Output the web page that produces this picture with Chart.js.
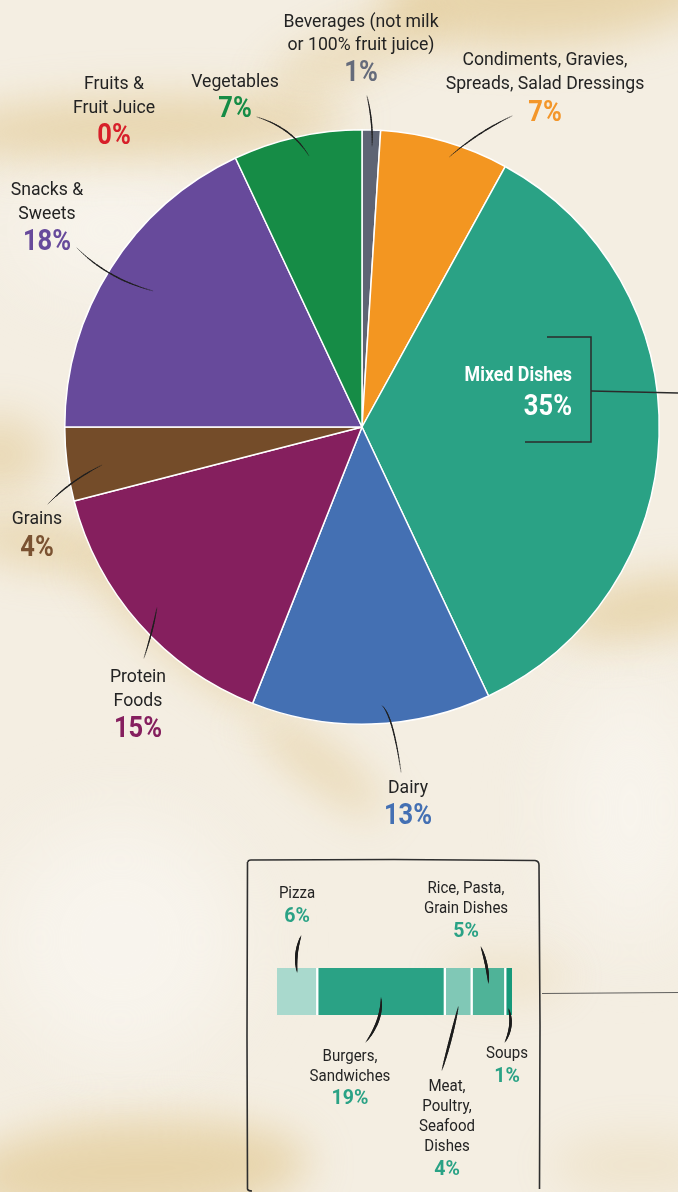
<!DOCTYPE html>
<html>
<head>
<meta charset="utf-8">
<script src="https://cdn.jsdelivr.net/npm/chart.js@4.4.1/dist/chart.umd.min.js"></script>
<style>
  html, body { margin: 0; padding: 0; }
  body { width: 678px; height: 1192px; overflow: hidden; position: relative; background: #f4eee2; }
  .haze { position: absolute; border-radius: 50%; background: rgba(220, 188, 118, 0.5); filter: blur(22px); }
  .soft { position: absolute; border-radius: 50%; background: rgba(251, 249, 245, 0.55); filter: blur(40px); }
  #pie { position: absolute; left: 0; top: 0; }
  #inset { position: absolute; left: 244px; top: 856px; }
</style>
</head>
<body>
<!-- marbled cream backdrop -->
<div class="soft" style="left:10px;top:170px;width:200px;height:120px;"></div>
<div class="soft" style="left:0px;top:820px;width:240px;height:240px;"></div>
<div class="soft" style="left:560px;top:680px;width:140px;height:260px;"></div>
<div class="haze" style="left:-70px;top:98px;width:420px;height:58px;transform:rotate(-2deg);"></div>
<div class="haze" style="left:260px;top:28px;width:190px;height:46px;transform:rotate(-22deg);opacity:.8;"></div>
<div class="haze" style="left:380px;top:-55px;width:340px;height:100px;transform:rotate(-4deg);"></div>
<div class="haze" style="left:-50px;top:415px;width:100px;height:80px;opacity:.8;"></div>
<div class="haze" style="left:-40px;top:522px;width:170px;height:44px;transform:rotate(8deg);"></div>
<div class="haze" style="left:60px;top:605px;width:240px;height:48px;transform:rotate(40deg);"></div>
<div class="haze" style="left:240px;top:748px;width:160px;height:34px;transform:rotate(38deg);"></div>
<div class="haze" style="left:555px;top:580px;width:180px;height:56px;transform:rotate(-10deg);"></div>
<div class="haze" style="left:-40px;top:1120px;width:350px;height:100px;transform:rotate(-3deg);"></div>
<div class="haze" style="left:440px;top:955px;width:130px;height:44px;opacity:.45;"></div>
<div class="haze" style="left:550px;top:1135px;width:180px;height:60px;opacity:.4;"></div>

<canvas id="pie" width="678" height="1192"></canvas>
<canvas id="inset" width="300" height="336"></canvas>

<script>
// ---- data ----
const categories = [
  'Beverages (not milk or 100% fruit juice)',
  'Condiments, Gravies, Spreads, Salad Dressings',
  'Mixed Dishes',
  'Dairy',
  'Protein Foods',
  'Grains',
  'Snacks & Sweets',
  'Vegetables',
  'Fruits & Fruit Juice'
];
const shares = [1, 7, 35, 13, 15, 4, 18, 7, 0];
const sliceColors = ['#5e6474', '#f39621', '#2aa285', '#4470b3', '#851f5e', '#744c29', '#674a9b', '#168c46', '#d7202a'];
const valueColors = ['#656b7b', '#f3962a', '#ffffff', '#4470b3', '#851f5e', '#7a5231', '#674a9b', '#168c46', '#d7202a'];

const mixedParts = ['Pizza', 'Burgers, Sandwiches', 'Meat, Poultry, Seafood Dishes', 'Rice, Pasta, Grain Dishes', 'Soups'];
const mixedShares = [6, 19, 4, 5, 1];
const mixedColors = ['#a9d9cd', '#2aa285', '#80c8b6', '#4fb398', '#16997a'];

// ---- text helpers ----
const FONT = 'Roboto, "Open Sans", sans-serif';
function squeezeText(ctx, str, x, y, size, weight, color, align, sx) {
  ctx.save();
  ctx.font = `${weight} ${size}px ${FONT}`;
  ctx.fillStyle = color;
  ctx.textBaseline = 'alphabetic';
  ctx.textAlign = align;
  ctx.translate(x, y);
  ctx.scale(sx, 1);
  ctx.fillText(str, 0, 0);
  ctx.restore();
}

// hand-drawn style leader: quadratic curve whose width swells in the middle
function taperCurve(ctx, p0, c, p1, wMax, color) {
  const N = 30;
  ctx.save();
  ctx.strokeStyle = color;
  ctx.lineCap = 'round';
  let prev = p0;
  for (let i = 1; i <= N; i++) {
    const t = i / N, u = 1 - t;
    const x = u * u * p0.x + 2 * u * t * c.x + t * t * p1.x;
    const y = u * u * p0.y + 2 * u * t * c.y + t * t * p1.y;
    const tm = (i - 0.5) / N;
    ctx.lineWidth = Math.max(0.4, wMax * Math.pow(Math.sin(Math.PI * tm), 0.5));
    ctx.beginPath();
    ctx.moveTo(prev.x, prev.y);
    ctx.lineTo(x, y);
    ctx.stroke();
    prev = { x, y };
  }
  ctx.restore();
}

// ---- pie label layout ----
const pieLabels = [
  { x: 361, lines: ['Beverages (not milk', 'or 100% fruit juice)'], base: [27, 50], pct: 81,
    lead: { out: [367, 96], ctrl: [373, 121], t: 0.57, rf: 0.946 } },
  { x: 545, lines: ['Condiments, Gravies,', 'Spreads, Salad Dressings'], base: [65, 89], pct: 121,
    lead: { out: [512, 116], ctrl: [478, 132], t: 0.57, rf: 0.956 } },
  { x: 572, lines: ['Mixed Dishes'], base: [381], pct: 415, align: 'right', inside: true },
  { x: 408, lines: ['Dairy'], base: [793], pct: 824,
    lead: { out: [401, 772], ctrl: [393, 716], t: 0.45, rf: 0.94 } },
  { x: 138, lines: ['Protein', 'Foods'], base: [682, 706], pct: 737,
    lead: { out: [144, 658], ctrl: [153, 630], t: 0.5, rf: 0.92 } },
  { x: 37, lines: ['Grains'], base: [524], pct: 556,
    lead: { out: [48, 504], ctrl: [70, 481], t: 0.42, rf: 0.885 } },
  { x: 47, lines: ['Snacks &', 'Sweets'], base: [195, 219], pct: 250,
    lead: { out: [77, 248], ctrl: [108, 279], t: 0.51, rf: 0.84 } },
  { x: 235, lines: ['Vegetables'], base: [87], pct: 117,
    lead: { out: [257, 117], ctrl: [292, 128], t: 0.56, rf: 0.93 } },
  { x: 114, lines: ['Fruits &', 'Fruit Juice'], base: [89, 113], pct: 144 }
];

const pieDecor = {
  id: 'pieDecor',
  afterDraw(chart) {
    const ctx = chart.ctx;
    const arcs = chart.getDatasetMeta(0).data;
    const cx = arcs[0].x, cy = arcs[0].y, R = arcs[0].outerRadius;

    pieLabels.forEach((lab, i) => {
      if (lab.lead) {
        const a = arcs[i];
        const ang = a.startAngle + (a.endAngle - a.startAngle) * lab.lead.t;
        const r = R * lab.lead.rf;
        const inner = { x: cx + r * Math.cos(ang), y: cy + r * Math.sin(ang) };
        taperCurve(ctx, { x: lab.lead.out[0], y: lab.lead.out[1] },
          { x: lab.lead.ctrl[0], y: lab.lead.ctrl[1] }, inner, 1.4, '#1f1f1f');
      }
      const align = lab.align || 'center';
      if (lab.inside) {
        lab.lines.forEach((ln, k) => squeezeText(ctx, ln, lab.x, lab.base[k], 20, 'bold', '#ffffff', align, 0.89));
      } else {
        lab.lines.forEach((ln, k) => squeezeText(ctx, ln, lab.x, lab.base[k], 19, 'normal', '#232323', align, 0.93));
      }
      squeezeText(ctx, shares[i] + '%', lab.x, lab.pct, 29, 'bold', valueColors[i], align, 0.88);
    });

    // bracket around the mixed dishes label
    ctx.save();
    ctx.strokeStyle = '#2b2b2b';
    ctx.lineWidth = 1.5;
    ctx.beginPath();
    ctx.moveTo(cx + 185, cy - 90);
    ctx.lineTo(cx + 229, cy - 90);
    ctx.lineTo(cx + 229, cy + 15);
    ctx.lineTo(cx + 163, cy + 15);
    ctx.stroke();
    ctx.beginPath();
    ctx.moveTo(cx + 229, cy - 36);
    ctx.lineTo(678, cy - 34);
    ctx.stroke();
    // link from the breakdown box out to the right edge
    ctx.strokeStyle = 'rgba(70,70,70,0.85)';
    ctx.lineWidth = 1;
    ctx.beginPath();
    ctx.moveTo(542, 993.5);
    ctx.lineTo(678, 992.5);
    ctx.stroke();
    ctx.restore();
  }
};

new Chart(document.getElementById('pie'), {
  type: 'pie',
  data: {
    labels: categories,
    datasets: [{
      data: shares,
      backgroundColor: sliceColors,
      borderColor: '#ffffff',
      borderWidth: 1.5
    }]
  },
  options: {
    responsive: false,
    animation: false,
    layout: { padding: { left: 64, right: 18, top: 129, bottom: 467 } },
    plugins: { legend: { display: false }, tooltip: { enabled: false } }
  },
  plugins: [pieDecor]
});

// ---- mixed dishes breakdown ----
const OX = 244, OY = 856; // page offset of the inset canvas
const insetLabels = [
  { x: 297, lines: ['Pizza'], base: [898], pct: 922,
    out: [301, 936], depth: 4, bend: -5 },
  { x: 350, lines: ['Burgers,', 'Sandwiches'], base: [1061, 1081], pct: 1104,
    out: [366, 1042], depth: 30, bend: 9 },
  { x: 447, lines: ['Meat,', 'Poultry,', 'Seafood', 'Dishes'], base: [1091, 1111, 1131, 1151], pct: 1175,
    out: [442, 1070], depth: 39, bend: 1 },
  { x: 466, lines: ['Rice, Pasta,', 'Grain Dishes'], base: [893, 913], pct: 937,
    out: [481, 947], depth: 15, bend: 3 },
  { x: 507, lines: ['Soups'], base: [1058], pct: 1082,
    out: [505, 1042], depth: 41, bend: 7 }
];

const insetDecor = {
  id: 'insetDecor',
  afterDraw(chart) {
    const ctx = chart.ctx;
    // sketched frame
    ctx.save();
    ctx.strokeStyle = '#2e2e2e';
    ctx.lineWidth = 1.6;
    ctx.lineJoin = 'round';
    ctx.beginPath();
    ctx.moveTo(4, 6);
    ctx.quadraticCurveTo(4, 4, 7, 4);
    ctx.lineTo(150, 3.5);
    ctx.lineTo(291, 4.5);
    ctx.quadraticCurveTo(295, 5, 295, 9);
    ctx.lineTo(296, 170);
    ctx.lineTo(295.5, 333);
    ctx.moveTo(3.5, 6);
    ctx.lineTo(3, 180);
    ctx.lineTo(3.5, 333);
    ctx.quadraticCurveTo(4, 335, 8, 335);
    ctx.stroke();
    ctx.restore();

    insetLabels.forEach((lab, i) => {
      const bar = chart.getDatasetMeta(i).data[0];
      const left = Math.min(bar.x, bar.base), right = Math.max(bar.x, bar.base);
      const midX = (left + right) / 2;
      const top = bar.y - bar.height / 2;
      const inner = { x: midX, y: top + lab.depth };
      const out = { x: lab.out[0] - OX, y: lab.out[1] - OY };
      const ctrl = { x: (inner.x + out.x) / 2 + lab.bend, y: (inner.y + out.y) / 2 };
      taperCurve(ctx, out, ctrl, inner, 2.6, '#1c1c1c');

      lab.lines.forEach((ln, k) => squeezeText(ctx, ln, lab.x - OX, lab.base[k] - OY, 16, 'normal', '#232323', 'center', 0.94));
      squeezeText(ctx, mixedShares[i] + '%', lab.x - OX, lab.pct - OY, 21, 'bold', '#2aa285', 'center', 0.93);
    });
  }
};

const totalMixed = mixedShares.reduce((s, v) => s + v, 0);
const edgeWidths = mixedShares.map((_, i) => ({
  top: 0, bottom: 0,
  left: i === 0 ? 0 : 1.5,
  right: i === mixedShares.length - 1 ? 0 : 1.5
}));

new Chart(document.getElementById('inset'), {
  type: 'bar',
  data: {
    labels: ['Mixed Dishes'],
    datasets: mixedParts.map((name, i) => ({
      label: name,
      data: [mixedShares[i]],
      backgroundColor: mixedColors[i],
      borderColor: '#ffffff',
      borderWidth: edgeWidths[i],
      borderSkipped: false,
      barPercentage: 1,
      categoryPercentage: 1
    }))
  },
  options: {
    indexAxis: 'y',
    responsive: false,
    animation: false,
    layout: { padding: { left: 33, right: 32, top: 112, bottom: 177 } },
    scales: {
      x: { stacked: true, min: 0, max: totalMixed, display: false },
      y: { stacked: true, display: false }
    },
    plugins: { legend: { display: false }, tooltip: { enabled: false } }
  },
  plugins: [insetDecor]
});
</script>
</body>
</html>
